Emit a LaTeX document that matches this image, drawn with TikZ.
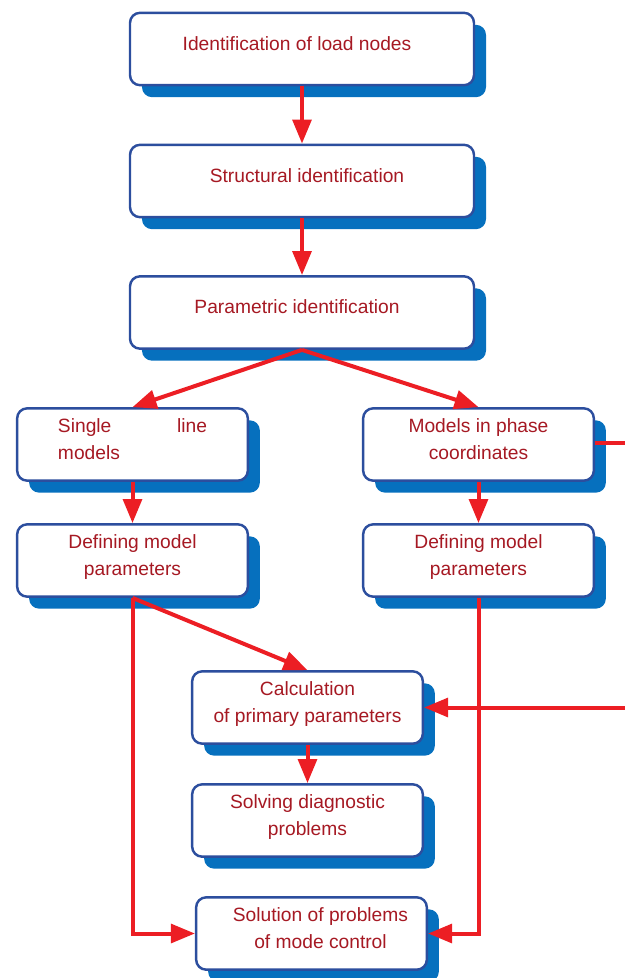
\documentclass[tikz,border=0pt]{standalone}
\usepackage{fontspec}
\setmainfont{Liberation Sans}
\usetikzlibrary{arrows.meta,shadows}

\definecolor{boxline}{RGB}{44,78,158}
\definecolor{boxshade}{RGB}{6,112,190}
\definecolor{labelred}{RGB}{166,25,35}
\definecolor{arrowred}{RGB}{236,30,36}

\tikzset{
  stage/.style={draw=boxline, line width=2.1pt, fill=white, rounded corners=0.3cm,
    minimum height=2.17cm, text depth=0.35cm, text=labelred, align=center,
    font=\fontsize{16.4}{23}\selectfont,
    drop shadow={shadow xshift=0.36cm, shadow yshift=-0.36cm, fill=boxshade, opacity=1}},
  wide/.style={stage, minimum width=10.32cm},
  narrow/.style={stage, minimum width=6.92cm},
  flow/.style={draw=arrowred, line width=0.12cm, -{Triangle[length=0.72cm,width=0.56cm]}},
}

\begin{document}
\begin{tikzpicture}[x=0.03cm, y=-0.03cm]
    \useasboundingbox (0, 0) rectangle (625, 978);
    % main chain
    \node[wide] (loadnodes) at(302, 49) {Identification of load nodes\hspace*{0.3cm}};
    \node[wide] (structid) at(302, 181) {\hspace*{0.3cm}Structural identification};
    \node[wide] (paramid) at(302, 312.5) {Parametric identification\hspace*{0.3cm}};
    % two kinds of models
    \node[narrow] (single) at(132.5, 444.5)
      {\makebox[4.47cm][l]{Single\hfill line}\\\makebox[4.47cm][l]{models}};
    \node[narrow] (phase) at(478.5, 444.5) {Models in phase\\coordinates};
    \node[narrow] (defleft) at(132.5, 560.5) {Defining model\\parameters};
    \node[narrow] (defright) at(478.5, 560.5) {Defining model\\parameters};
    % lower part
    \node[narrow] (primary) at(307.5, 707.5) {Calculation\\of primary parameters};
    \node[narrow] (diagn) at(307.5, 820.5) {Solving diagnostic\\problems};
    \node[narrow] (control) at(311.5, 933.5)
      {\hspace*{0.54cm}Solution of problems\\\hspace*{0.54cm}of mode control};
    \coordinate (feedin) at(625, 707.5);
    \coordinate (feedout) at(625, 443);

    \draw[flow] (loadnodes.south) -- (structid.north);
    \draw[flow] (structid.south) -- (paramid.north);
    \draw[flow] (paramid.south) -- (single.north);
    \draw[flow] (paramid.south) -- (phase.north);
    \draw[flow] (single.south) -- (defleft.north);
    \draw[flow] (phase.south) -- (defright.north);
    \draw[flow] (defleft.south) -- (primary.north);
    \draw[flow] (defleft.south) |- (control.west);
    \draw[flow] (defright.south) |- (control.east);
    \draw[flow] (primary.south) -- (diagn.north);
    \draw[flow] (feedin) -- (primary.east);
    \draw[flow, -] (phase.east |- feedout) -- (feedout);
\end{tikzpicture}
\end{document}
